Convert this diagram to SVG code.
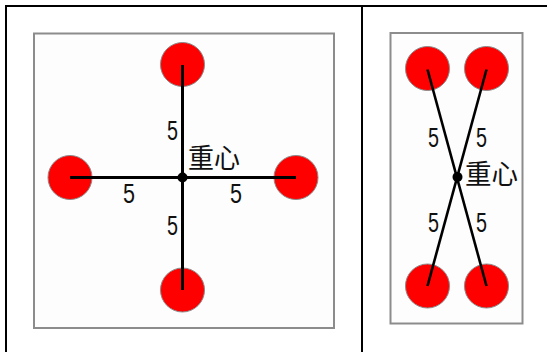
<svg xmlns="http://www.w3.org/2000/svg" width="547" height="352" viewBox="0 0 547 352">
<style>
.frame{fill:none;stroke:#000;stroke-width:2}
.box{fill:#fdfdfd;stroke:#8c8c8c;stroke-width:2}
.mass{fill:#ff0000;stroke:#8a8a8a;stroke-width:1}
.arm{stroke:#000;stroke-width:3;stroke-linecap:butt;fill:none}
.dot{fill:#000}
.num{font-family:"Liberation Sans",sans-serif;font-size:27px;fill:#111}
.cg{font-family:"Noto Sans CJK TC","Noto Sans CJK SC",sans-serif;font-size:27px;fill:#111}
</style>
<rect width="547" height="352" fill="#fff"/>
<g id="table">
<path class="frame" d="M6,352 V6 H547 M362,6 V352"/>
</g>
<g id="panel-left">
<rect class="box" x="34" y="33.5" width="300" height="294.5"/>
</g>
<g id="panel-right">
<rect class="box" x="390.5" y="33" width="132" height="290.5"/>
</g>
<g id="mass-left-top"><circle class="mass" cx="182.5" cy="64.5" r="22"/></g>
<g id="mass-left-left"><circle class="mass" cx="70" cy="177.5" r="22"/></g>
<g id="mass-left-right"><circle class="mass" cx="296" cy="177.5" r="22"/></g>
<g id="mass-left-bottom"><circle class="mass" cx="182.5" cy="290" r="22"/></g>
<g id="mass-right-tl"><circle class="mass" cx="427.5" cy="68.5" r="22"/></g>
<g id="mass-right-tr"><circle class="mass" cx="486.5" cy="68.5" r="22"/></g>
<g id="mass-right-bl"><circle class="mass" cx="427.5" cy="286" r="22"/></g>
<g id="mass-right-br"><circle class="mass" cx="486.5" cy="286" r="22"/></g>
<g id="connectors">
<line class="arm" x1="182.5" y1="65" x2="182.5" y2="290"/>
<line class="arm" x1="70" y1="177.5" x2="296" y2="177.5"/>
<line class="arm" x1="427.5" y1="69.5" x2="486.5" y2="286" style="stroke-width:2.6"/>
<line class="arm" x1="486.5" y1="69.5" x2="427.5" y2="286" style="stroke-width:2.6"/>
</g>
<g id="centroid-left">
<circle class="dot" cx="182.5" cy="177.5" r="5"/>
<text class="cg" x="188" y="168" textLength="52" lengthAdjust="spacingAndGlyphs">重心</text>
</g>
<g id="centroid-right">
<circle class="dot" cx="457.5" cy="177" r="5"/>
<text class="cg" x="465" y="184" textLength="53" lengthAdjust="spacingAndGlyphs">重心</text>
</g>
<g id="labels">
<text class="num" x="167" y="140" textLength="11" lengthAdjust="spacingAndGlyphs">5</text>
<text class="num" x="167" y="235" textLength="11" lengthAdjust="spacingAndGlyphs">5</text>
<text class="num" x="123" y="203" textLength="12" lengthAdjust="spacingAndGlyphs">5</text>
<text class="num" x="230" y="203" textLength="12" lengthAdjust="spacingAndGlyphs">5</text>
<text class="num" x="428" y="147" textLength="11" lengthAdjust="spacingAndGlyphs">5</text>
<text class="num" x="476" y="147" textLength="11" lengthAdjust="spacingAndGlyphs">5</text>
<text class="num" x="428" y="232" textLength="11" lengthAdjust="spacingAndGlyphs">5</text>
<text class="num" x="476" y="232" textLength="11" lengthAdjust="spacingAndGlyphs">5</text>
</g>
</svg>
